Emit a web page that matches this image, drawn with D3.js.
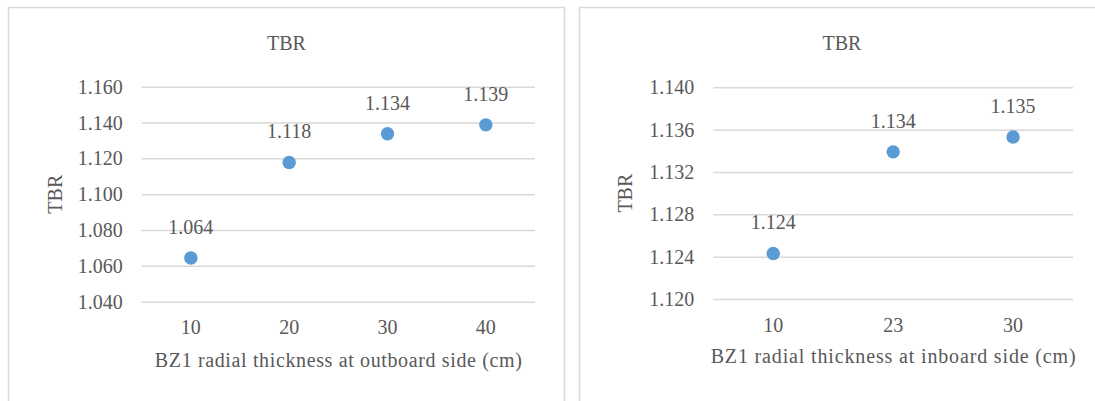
<!DOCTYPE html>
<html>
<head>
<meta charset="utf-8">
<script src="https://cdn.jsdelivr.net/npm/d3@7"></script>
</head>
<body style="margin:0">
<svg id="chart" width="1095" height="401" font-family="Liberation Serif"></svg>
<script>
// ---- data ----
const outboardCategories = ["10", "20", "30", "40"];
const outboardTBR = [1.0644, 1.1177, 1.1337, 1.1387];
const outboardTicks = [1.040, 1.060, 1.080, 1.100, 1.120, 1.140, 1.160];

const inboardCategories = ["10", "23", "30"];
const inboardTBR = [1.1243, 1.1339, 1.1353];
const inboardTicks = [1.120, 1.124, 1.128, 1.132, 1.136, 1.140];

const chartTitles = ["TBR", "TBR"];
const yTitles = ["TBR", "TBR"];
const xTitles = ["BZ1 radial thickness at outboard side (cm)", "BZ1 radial thickness at inboard side (cm)"];

// ---- layout ----
const INK = "#595959";
const svg = d3.select("#chart");
const fmt = d3.format(".3f");

function styleText(sel) {
  return sel.attr("font-family", "Liberation Serif").attr("font-size", 20).attr("fill", INK);
}

const panels = [
  { box: [8.5, 7.5, 556, 420], plot: [141.7, 535, 86.7, 301.7], cats: outboardCategories, vals: outboardTBR,
    ticks: outboardTicks, title: chartTitles[0], titleX: 286.5, yTitle: yTitles[0], yTitleX: 62,
    xTitle: xTitles[0], xTitleW: 367, xTickDy: 32.3, xTitleY: 366.5 },
  { box: [579.5, 7.5, 560, 420], plot: [713.3, 1073, 87.3, 299], cats: inboardCategories, vals: inboardTBR,
    ticks: inboardTicks, title: chartTitles[1], titleX: 842, yTitle: yTitles[1], yTitleX: 632,
    xTitle: xTitles[1], xTitleW: 365, xTickDy: 32.7, xTitleY: 362.5 }
];

panels.forEach(p => {
  svg.append("rect")
    .attr("x", p.box[0]).attr("y", p.box[1])
    .attr("width", p.box[2]).attr("height", p.box[3])
    .attr("fill", "none").attr("stroke", "#d9d9d9").attr("stroke-width", 1.5);

  const [x0, x1, yTop, yBot] = p.plot;
  const x = d3.scaleBand().domain(p.cats).range([x0, x1]);
  const y = d3.scaleLinear().domain([d3.min(p.ticks), d3.max(p.ticks)]).range([yBot, yTop]);

  const gy = svg.append("g").attr("transform", `translate(${x0},0)`)
    .call(d3.axisLeft(y).tickValues(p.ticks).tickFormat(fmt).tickSize(-(x1 - x0)).tickPadding(19));
  gy.select(".domain").remove();
  styleText(gy);
  gy.selectAll(".tick line").attr("stroke", "#d9d9d9").attr("stroke-width", 1.5);
  styleText(gy.selectAll(".tick text")).attr("dy", "0.33em");

  const gx = svg.append("g").attr("transform", `translate(0,${yBot})`)
    .call(d3.axisBottom(x).tickSize(0));
  gx.select(".domain").remove();
  styleText(gx);
  styleText(gx.selectAll(".tick text")).attr("y", p.xTickDy).attr("dy", null);

  styleText(svg.append("text")).attr("x", p.titleX).attr("y", 50)
    .attr("text-anchor", "middle").text(p.title);

  styleText(svg.append("text"))
    .attr("transform", `translate(${p.yTitleX},${(yTop + yBot) / 2}) rotate(-90)`)
    .attr("text-anchor", "middle").text(p.yTitle);

  styleText(svg.append("text")).attr("x", (x0 + x1) / 2).attr("y", p.xTitleY)
    .attr("text-anchor", "middle")
    .attr("textLength", p.xTitleW).attr("lengthAdjust", "spacing")
    .text(p.xTitle);

  const pts = p.cats.map((c, i) => ({ c, v: p.vals[i] }));
  svg.append("g").selectAll("circle").data(pts).join("circle")
    .attr("cx", d => x(d.c) + x.bandwidth() / 2)
    .attr("cy", d => y(d.v))
    .attr("r", 6.7)
    .attr("fill", "#5B9BD5");
  styleText(svg.append("g").selectAll("text").data(pts).join("text"))
    .attr("x", d => x(d.c) + x.bandwidth() / 2)
    .attr("y", d => y(d.v) - 24)
    .attr("text-anchor", "middle")
    .text(d => fmt(d.v));
});
</script>
</body>
</html>
